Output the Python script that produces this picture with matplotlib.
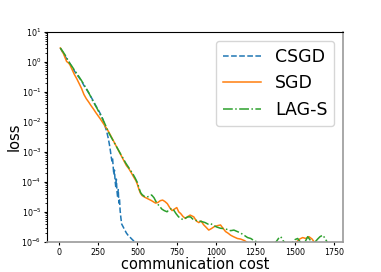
import numpy as np
import matplotlib
matplotlib.use('Agg')
import matplotlib.pyplot as plt

# loss curves, stored as log10(loss)
csgd_x = [10, 25, 40, 55, 70, 85, 100, 115, 130, 145, 160, 175, 190, 205, 220, 235,
          250, 265, 280, 295, 305, 315, 322, 328, 333, 338, 342, 346, 350, 354, 358,
          362, 366, 370, 374, 378, 382, 386, 390, 395, 400, 410, 420, 430, 440, 455,
          470, 485, 500]
csgd_log = [0.47, 0.33, 0.2, 0.07, -0.04, -0.17, -0.3, -0.42, -0.52, -0.63, -0.78, -0.9,
            -1.02, -1.16, -1.3, -1.45, -1.58, -1.73, -1.9, -2.15, -2.32, -2.55, -2.75,
            -2.95, -3.15, -3.3, -3.2, -3.5, -3.75, -3.6, -3.95, -4.15, -3.9, -4.3, -4.5,
            -4.25, -4.7, -4.55, -4.95, -5.2, -5.4, -5.5, -5.6, -5.7, -5.77, -5.85, -5.93,
            -6.0, -6.08]

sgd_x = [10, 20, 30, 40, 50, 60, 70, 85, 100, 115, 130, 145, 160, 175, 190, 205, 220,
         235, 250, 265, 280, 295, 310, 325, 340, 355, 370, 385, 400, 415, 430, 445, 460,
         475, 490, 500, 510, 520, 530, 545, 560, 575, 590, 602, 615, 630, 645, 660, 675,
         690, 705, 720, 735, 750, 762, 775, 790, 805, 820, 835, 858, 875, 890, 905, 920,
         935, 953, 970, 990, 1010, 1028, 1045, 1060, 1075, 1092, 1110, 1135, 1156, 1180,
         1200, 1230, 1260, 1300, 1340, 1380, 1420, 1460, 1500, 1530, 1550, 1570, 1590,
         1610, 1630, 1660, 1690]
sgd_log = [0.47, 0.38, 0.28, 0.15, 0.02, -0.02, -0.08, -0.25, -0.42, -0.56, -0.72, -0.88,
           -1.08, -1.22, -1.33, -1.45, -1.56, -1.68, -1.79, -1.9, -2.02, -2.14, -2.26,
           -2.4, -2.55, -2.7, -2.85, -3.0, -3.15, -3.3, -3.45, -3.55, -3.68, -3.82, -3.95,
           -4.08, -4.25, -4.38, -4.45, -4.5, -4.54, -4.58, -4.62, -4.66, -4.7, -4.68,
           -4.62, -4.6, -4.65, -4.72, -4.85, -4.95, -4.9, -4.85, -4.99, -5.05, -5.15,
           -5.21, -5.15, -5.1, -5.16, -5.3, -5.35, -5.3, -5.42, -5.5, -5.6, -5.55, -5.48,
           -5.45, -5.43, -5.55, -5.65, -5.7, -5.77, -5.82, -5.88, -5.9, -5.95, -6.02,
           -6.1, -6.05, -6.15, -6.1, -6.2, -6.1, -6.15, -6.05, -5.9, -5.85, -5.88, -5.82,
           -5.9, -6.05, -6.2, -6.1]

lag_x = [10, 25, 40, 55, 70, 85, 100, 115, 130, 145, 160, 175, 187, 200, 215, 230, 245,
         260, 275, 290, 305, 320, 335, 350, 365, 380, 395, 410, 425, 440, 455, 470, 485,
         500, 510, 520, 530, 545, 560, 575, 590, 605, 615, 624, 640, 655, 670, 688, 705,
         720, 730, 745, 760, 773, 790, 805, 820, 837, 855, 875, 895, 911, 930, 948, 964,
         985, 1005, 1028, 1050, 1070, 1092, 1113, 1135, 1156, 1180, 1200, 1220, 1240,
         1262, 1290, 1320, 1350, 1380, 1400, 1411, 1425, 1450, 1480, 1500, 1518, 1535,
         1555, 1582, 1600, 1620, 1645, 1660, 1678, 1695, 1710, 1720]
lag_log = [0.47, 0.36, 0.24, 0.1, -0.04, -0.15, -0.27, -0.38, -0.5, -0.62, -0.75, -0.88,
           -0.99, -1.12, -1.28, -1.42, -1.56, -1.72, -1.86, -2.02, -2.2, -2.38, -2.52,
           -2.66, -2.8, -2.94, -3.08, -3.22, -3.36, -3.48, -3.6, -3.72, -3.86, -4.02,
           -4.2, -4.35, -4.42, -4.48, -4.5, -4.47, -4.43, -4.52, -4.62, -4.71, -4.8,
           -4.9, -4.95, -4.99, -4.9, -4.88, -4.93, -5.05, -5.15, -5.21, -5.25, -5.2,
           -5.16, -5.16, -5.25, -5.28, -5.3, -5.32, -5.35, -5.4, -5.38, -5.45, -5.5,
           -5.54, -5.55, -5.58, -5.62, -5.6, -5.65, -5.7, -5.78, -5.85, -5.88, -5.95,
           -6.0, -6.1, -6.05, -6.15, -6.0, -5.85, -5.82, -5.95, -6.1, -6.05, -5.92,
           -5.88, -6.0, -6.1, -5.82, -5.95, -6.05, -5.9, -5.82, -5.77, -5.9, -6.05, -6.15]

fig = plt.figure(figsize=(3.81, 2.72), dpi=100)
ax = fig.add_subplot(111)
fig.subplots_adjust(left=0.123, right=0.9, top=0.882, bottom=0.11)

ax.plot(csgd_x, 10 ** np.array(csgd_log), '--', color='C0', lw=1.1, label='CSGD')
ax.plot(sgd_x, 10 ** np.array(sgd_log), '-', color='C1', lw=1.1, label='SGD')
ax.plot(lag_x, 10 ** np.array(lag_log), '-.', color='C2', lw=1.1, label='LAG-S')

ax.set_yscale('log')
ax.set_ylim(1e-6, 1e1)
ax.set_xticks([0, 250, 500, 750, 1000, 1250, 1500, 1750])
ax.tick_params(which='major', labelsize=5.7, length=2.5, pad=1.5)
ax.tick_params(which='minor', length=1.5)
ax.set_xlabel('communication cost', fontsize=10.5, labelpad=0)
ax.set_ylabel('loss', fontsize=10.5, labelpad=0)

ax.spines['right'].set_color('#999999')
ax.spines['bottom'].set_color('#999999')
ax.spines['right'].set_linewidth(1.2)
ax.spines['bottom'].set_linewidth(1.2)

ax.legend(loc='upper right', fontsize=12.5, handlelength=2.2)

fig.savefig('out.png', dpi=100)
